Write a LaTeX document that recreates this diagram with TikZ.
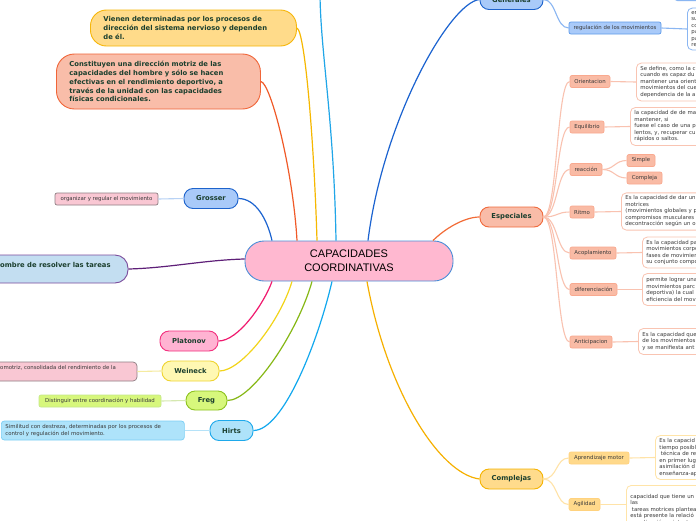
\documentclass[tikz,border=0pt]{standalone}
\usepackage{fontspec}
\setmainfont{DejaVu Sans}
\newfontfamily\cenfont{Liberation Sans}
\definecolor{tgreen}{HTML}{1B3F2E}
\definecolor{tgray}{HTML}{3A3A3A}
\definecolor{cpink}{HTML}{FFB8D0}
\definecolor{cblue}{HTML}{4A8ED8}
\definecolor{vfill}{HTML}{FFDB8A}
\definecolor{vdraw}{HTML}{F6B60A}
\definecolor{vline}{HTML}{F6B800}
\definecolor{rfill}{HTML}{F9BDA9}
\definecolor{rdraw}{HTML}{F06538}
\definecolor{rline}{HTML}{F05A28}
\definecolor{gfill}{HTML}{A9CAF9}
\definecolor{gdraw}{HTML}{1D63CC}
\definecolor{gline}{HTML}{1B63D0}
\definecolor{gsub}{HTML}{8AB6F2}
\definecolor{gsubdraw}{HTML}{5E9BEA}
\definecolor{orgfill}{HTML}{F9C7D3}
\definecolor{orgdraw}{HTML}{8F7F84}
\definecolor{pufill}{HTML}{C3DEF1}
\definecolor{pudraw}{HTML}{7B4C9C}
\definecolor{puline}{HTML}{5E1F78}
\definecolor{plfill}{HTML}{FFB3D2}
\definecolor{pldraw}{HTML}{F2307E}
\definecolor{plline}{HTML}{F0196E}
\definecolor{wefill}{HTML}{FFF8B3}
\definecolor{wedraw}{HTML}{EFD432}
\definecolor{weline}{HTML}{F2D41A}
\definecolor{welight}{HTML}{F5EBA0}
\definecolor{frfill}{HTML}{D7F77C}
\definecolor{frdraw}{HTML}{8DC21F}
\definecolor{frline}{HTML}{86B815}
\definecolor{frlight}{HTML}{D5E8B0}
\definecolor{frbox}{HTML}{C5E88A}
\definecolor{hifill}{HTML}{AEE3FA}
\definecolor{hidraw}{HTML}{1EA9EB}
\definecolor{hiline}{HTML}{12A8EE}
\definecolor{hilight}{HTML}{B5E2F8}
\definecolor{hibox}{HTML}{7CCFF5}
\definecolor{orglight}{HTML}{B8D2F5}
\definecolor{topc}{HTML}{20A6E8}
\definecolor{esfill}{HTML}{F9BCA8}
\definecolor{esdraw}{HTML}{F06A3C}
\definecolor{esline}{HTML}{F26B36}
\definecolor{essfill}{HTML}{F9BBA5}
\definecolor{essdraw}{HTML}{F9A98F}
\definecolor{eslink}{HTML}{F9C2B0}
\definecolor{estb}{HTML}{F9C4B2}
\definecolor{cofill}{HTML}{FFDB8C}
\definecolor{codraw}{HTML}{F5B301}
\definecolor{coline}{HTML}{F6B000}
\definecolor{cosfill}{HTML}{FFD98B}
\definecolor{cosdraw}{HTML}{FFD27E}
\definecolor{colink}{HTML}{FFE3A8}
\definecolor{cotb}{HTML}{FFE4A8}
\begin{document}
\begin{tikzpicture}[x=1pt,y=-1pt,
  capnode/.style={draw=cblue, fill=cpink, line width=0.9pt, rounded corners=19pt, minimum width=208pt, minimum height=40pt, inner sep=0pt, align=center, font=\cenfont\fontsize{11}{14}\selectfont, text=black},
  pill/.style={draw, line width=0.9pt, rounded corners=9pt, inner sep=0pt, font=\fontsize{6.8}{8.9}\selectfont\bfseries, text=tgreen},
  leaf/.style={draw, line width=0.7pt, rounded corners=2pt, inner sep=0pt, font=\fontsize{5.4}{6.5}\selectfont, text=tgray},
  smalltext/.style={inner sep=0pt, font=\fontsize{5.4}{6.5}\selectfont, text=tgray},
  tbox/.style={fill=white, line width=0.8pt, rounded corners=5pt, inner xsep=4pt, inner ysep=3pt, font=\fontsize{5.4}{6.5}\selectfont, text=tgray, align=left, anchor=west, text width=90pt},
  esub/.style={leaf, fill=essfill, draw=essdraw, minimum height=12pt},
  csub/.style={leaf, fill=cosfill, draw=cosdraw, minimum height=12pt},
  mlink/.style={line width=1.2pt},
  slink/.style={line width=1.1pt}
]
\useasboundingbox (0,0) rectangle (696,520);
\fill[white] (0,0) rectangle (696,520);

% ---------- nodes ----------
\node[capnode] (cap) at (349,261) {CAPACIDADES\\COORDINATIVAS};

\node[pill, fill=vfill, draw=vdraw, rounded corners=16pt, text width=180pt, inner xsep=13pt, minimum height=36pt, align=left, anchor=west] (vie) at (90,28)
 {Vienen determinadas por los procesos de\\dirección del sistema nervioso y dependen\\de él.};
\node[pill, fill=rfill, draw=rdraw, rounded corners=18pt, text width=178pt, inner xsep=13pt, minimum height=55pt, align=left, anchor=west] (con) at (56,81.5)
 {Constituyen una dirección motriz de las\\capacidades del hombre y sólo se hacen\\efectivas en el rendimiento deportivo, a\\través de la unidad con las capacidades\\físicas condicionales.};

\node[pill, fill=gfill, draw=gdraw, minimum width=54pt, minimum height=20pt] (gro) at (211,198.5) {Grosser};
\node[leaf, fill=orgfill, draw=orgdraw, minimum width=103pt, minimum height=12pt] (org) at (106.5,199) {organizar y regular el movimiento};

\node[pill, fill=pufill, draw=pudraw, rounded corners=13pt, minimum width=200pt, minimum height=28pt] (pub) at (28,269) {};
\node[inner sep=0pt, anchor=west, font=\fontsize{6.8}{8.9}\selectfont\bfseries, text=tgreen] (put) at (0,265) {ombre de resolver las tareas};

\node[pill, fill=plfill, draw=pldraw, minimum width=58pt, minimum height=20pt] (pla) at (189,341) {Platonov};

\node[pill, fill=wefill, draw=wedraw, minimum width=57pt, minimum height=20pt] (wei) at (190.5,371) {Weineck};
\node[leaf, fill=orgfill, draw=orgdraw, rounded corners=4pt, minimum width=160pt, minimum height=19pt] (omb) at (57,371.5) {};
\node[smalltext, anchor=west] (omt) at (0,368) {omotriz, consolidada del rendimiento de la};

\node[pill, fill=frfill, draw=frdraw, minimum width=41pt, minimum height=19pt] (fre) at (206.5,400.5) {Freg};
\node[leaf, fill=frfill, draw=frbox, minimum width=122pt, minimum height=12pt] (dis) at (100,401) {Distinguir entre coordinación y habilidad};

\node[pill, fill=hifill, draw=hidraw, minimum width=43pt, minimum height=20pt] (hir) at (231.5,430.5) {Hirts};
\node[leaf, fill=hifill, draw=hibox, rounded corners=3pt, text width=175pt, inner xsep=4pt, minimum height=19pt, align=left, anchor=west] (simb) at (1,430.5)
 {Similitud con destreza, determinadas por los procesos de\\control y regulación del movimiento.};

% right: Generales
\node[pill, fill=gfill, draw=gdraw, minimum width=63pt, minimum height=20pt] (gen) at (511.5,-0.5) {Generales};
\node[draw=gsub, fill=white, line width=0.8pt, rounded corners=4pt, minimum width=60pt, minimum height=26pt, anchor=south west, inner sep=0pt] (gtb) at (673,1) {};
\coordinate (gup) at (556,-26);
\node[leaf, fill=gfill, draw=gsubdraw, minimum width=92pt, minimum height=12pt] (reg) at (615,28) {regulación de los movimientos};
\node[tbox, draw=gsub, minimum height=42pt] (regt) at (687,29) {en\\su\\co\\pa\\pa\\re};

% right: Especiales
\node[pill, fill=esfill, draw=esdraw, minimum width=63pt, minimum height=20pt] (esp) at (511.5,217) {Especiales};
\node[esub, minimum width=40pt] (ori) at (590,81.5) {Orientacion};
\node[esub, minimum width=34pt] (equ) at (587,127) {Equilibrio};
\node[esub, minimum width=32pt] (rea) at (586,169.5) {reacción};
\node[esub, minimum width=28pt] (simp) at (641,160.5) {Simple};
\node[esub, minimum width=35pt] (comp) at (644.5,178) {Compleja};
\node[esub, minimum width=24pt] (rit) at (582,212) {Ritmo};
\node[esub, minimum width=46pt] (aco) at (593,253) {Acoplamiento};
\node[esub, minimum width=47pt] (dif) at (593.5,289.5) {diferenciación};
\node[esub, minimum width=42pt] (ant) at (591,342) {Anticipacion};

\node[tbox, draw=estb, minimum height=38pt] (orit) at (636,82)
 {Se define, como la c\\cuando es capaz du\\mantener una orient\\movimientos del cue\\dependencia de la a};
\node[tbox, draw=estb, minimum height=38pt] (equt) at (630,126.5)
 {la capacidad de de ma\\mantener, si\\fuese el caso de una p\\lentos, y, recuperar cu\\rápidos o saltos.};
\node[tbox, draw=estb, minimum height=36pt] (ritt) at (621,211.5)
 {Es la capacidad de dar un\\motrices\\(movimientos globales y p\\compromisos musculares\\decontracción según un o};
\node[tbox, draw=estb, minimum height=31pt] (acot) at (642,252.5)
 {Es la capacidad pa\\movimientos corpo\\fases de movimien\\su conjunto compo};
\node[tbox, draw=estb, minimum height=32pt] (dift) at (642,289.5)
 {permite lograr una\\movimientos parc\\deportiva) la cual\\eficiencia del mov};
\node[tbox, draw=estb, minimum height=26pt] (antt) at (638,341.5)
 {Es la capacidad que\\de los movimientos\\y se manifiesta ant};

% right: Complejas
\node[pill, fill=cofill, draw=codraw, minimum width=63pt, minimum height=20pt] (cmp) at (511.5,479) {Complejas};
\node[csub, minimum width=60pt] (apr) at (599,458) {Aprendizaje motor};
\node[csub, minimum width=31pt] (agi) at (584.5,504.5) {Agilidad};
\node[tbox, draw=cotb, minimum height=44pt] (aprt) at (655,457.5)
 {Es la capacid\\tiempo posibl\\\hspace*{1.5pt}técnica de re\\en primer lug\\asimilación d\\enseñanza-ap};
\node[tbox, draw=cotb, anchor=north west, inner ysep=4.5pt, minimum height=48pt] (agit) at (626,485)
 {capacidad que tiene un\\las\\\hspace*{1.5pt}tareas motrices plantea\\está presente la relació\\coordinación existente e};

% ---------- connectors from the centre ----------
\draw[mlink, gline] (gro.east) .. controls +(17,0) and +(-5,-22) .. ([xshift=-77pt]cap.north);
\draw[mlink, rline] (con.east) .. controls +(10,2) and +(-4,-70) .. ([xshift=-52pt]cap.north);
\draw[mlink, vline] (vie.east) .. controls +(8,3) and +(-3,-100) .. ([xshift=-32pt]cap.north);
\coordinate (ctop) at (320,-4);
\draw[mlink, topc] ([xshift=-13pt]cap.north) .. controls +(-2,-120) and +(1,60) .. (ctop);
\draw[mlink, gline] ([xshift=19pt]cap.north) .. controls +(15,-120) and +(-30,3) .. (gen.west);
\draw[mlink, esline] ([xshift=84pt]cap.north) .. controls +(12,-12) and +(-15,0) .. (esp.west);
\draw[mlink, puline] (pub.east) .. controls +(40,-1) and +(-40,1) .. ([yshift=2pt]cap.west);
\draw[mlink, plline] (pla.east) .. controls +(20,0) and +(-8,22) .. ([xshift=-77pt]cap.south);
\draw[mlink, weline] (wei.east) .. controls +(22,0) and +(-12,40) .. ([xshift=-57pt]cap.south);
\draw[mlink, frline] (fre.east) .. controls +(25,0) and +(-14,50) .. ([xshift=-37pt]cap.south);
\draw[mlink, hiline] (hir.east) .. controls +(30,0) and +(-14,60) .. ([xshift=-17pt]cap.south);
\draw[mlink, coline] ([xshift=18pt]cap.south) .. controls +(20,110) and +(-40,-5) .. (cmp.west);

% ---------- left leaf links ----------
\draw[slink, orglight] (org.east) -- (gro.west);
\draw[slink, welight] (omb.east) -- (wei.west);
\draw[slink, frlight] (dis.east) -- (fre.west);
\draw[slink, hilight] (simb.east) -- (hir.west);

% ---------- Generales ----------
\draw[slink, gsub] (gen.east) .. controls +(13,0) and +(-13,0) .. (reg.west);
\draw[slink, gsub] (gen.east) .. controls +(9,0) and +(0,12) .. (gup);
\draw[slink, gsub] (reg.east) -- (regt.west);

% ---------- Especiales ----------
\foreach \n in {ori,equ,rea,rit,aco,dif,ant}
  \draw[slink, eslink] (esp.east) .. controls +(14,0) and +(-13,0) .. (\n.west);
\draw[slink, eslink] (rea.east) .. controls +(12,0) and +(-12,0) .. (simp.west);
\draw[slink, eslink] (rea.east) .. controls +(12,0) and +(-12,0) .. (comp.west);
\draw[slink, eslink] (ori.east) -- (orit.west);
\draw[slink, eslink] (equ.east) -- (equt.west);
\draw[slink, eslink] (rit.east) -- (ritt.west);
\draw[slink, eslink] (aco.east) -- (acot.west);
\draw[slink, eslink] (dif.east) -- (dift.west);
\draw[slink, eslink] (ant.east) -- (antt.west);

% ---------- Complejas ----------
\draw[slink, colink] (cmp.east) .. controls +(14,0) and +(-13,0) .. (apr.west);
\draw[slink, colink] (cmp.east) .. controls +(14,0) and +(-13,0) .. (agi.west);
\draw[slink, colink] (apr.east) -- (aprt.west);
\draw[slink, colink] (agi.east) -- (agi.east -| agit.west);
\end{tikzpicture}
\end{document}
